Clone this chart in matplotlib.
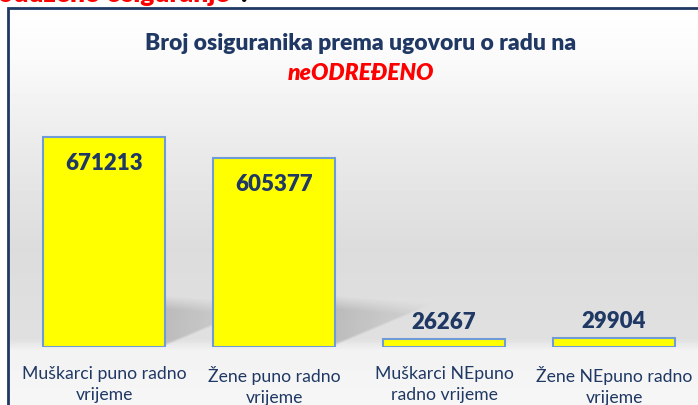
import matplotlib
matplotlib.use('Agg')
import matplotlib.pyplot as plt
import matplotlib.patches as patches
import numpy as np

categories = ['Muškarci puno radno\nvrijeme', 'Žene puno radno\nvrijeme',
              'Muškarci NEpuno\nradno vrijeme', 'Žene NEpuno radno\nvrijeme']
values = [671213, 605377, 26267, 29904]

navy = '#1f3864'
plt.rcParams['font.family'] = ['Lato', 'DejaVu Sans']

W, H = 698, 406
fig = plt.figure(figsize=(W / 100, H / 100), dpi=100)

# background: white page with a grey gradient panel inside the frame
bg = fig.add_axes([0, 0, 1, 1])
bg.set_xlim(0, W)
bg.set_ylim(H, 0)
bg.axis('off')
bg.add_patch(patches.Rectangle((0, 0), W, H, color='white', zorder=0))
stops_y = [9, 60, 150, 250, 340, 352, 406]
stops_c = [255, 250, 234, 220, 224, 243, 246]
ys = np.arange(9, 406) + 0.5
shade = np.interp(ys, stops_y, stops_c) / 255.0
grad = np.repeat(shade[:, None], 2, axis=1)
bg.imshow(grad, cmap='gray', vmin=0, vmax=1, aspect='auto',
          extent=[8, W + 5, 406, 9], zorder=1)

# soft floor shadow to the right of the tall bars
px, py = np.meshgrid(np.arange(W) + 0.5, np.arange(H) + 0.5)
alpha = np.zeros((H, W))
for xr in [166, 335]:
    d = px - xr
    top = 296 + d * 0.08
    bot = 347 - d * 0.42
    inside = np.clip((py - top) / 14, 0, 1) * np.clip((bot - py) / 3, 0, 1)
    fade = np.clip(1 - d / 140, 0, 1) * (d >= 0)
    alpha = np.maximum(alpha, 0.16 * inside * fade)
shadow = np.zeros((H, W, 4))
shadow[..., 3] = alpha
bg.imshow(shadow, extent=[0, W, H, 0], aspect='auto', zorder=1.5)

bg.plot([8, 8, W + 5], [H + 5, 9, 9], color=navy, lw=2, zorder=2,
        solid_joinstyle='miter')

# red caption running off the top edge
fig.text(-2 / W, 1 - 2 / H, 'oduzeno osiguranje', color='#ff0000',
         fontsize=19, fontweight='heavy', va='baseline', ha='left')
fig.text(240 / W, 1 - 2 / H, '.', color='black', fontsize=19,
         fontweight='heavy', va='baseline', ha='left')

fig.text(361 / W, 1 - 44 / H, 'Broj osiguranika prema ugovoru o radu na',
         color=navy, fontsize=16.5, fontweight='heavy', ha='center', va='center')
fig.text(361 / W, 1 - 74 / H, 'neODREĐENO', color='#ff0000', fontsize=16.5,
         fontweight='heavy', style='italic', ha='center', va='center')

# bar axes: baseline at y=348 px, 671213 reaches y=138 px
ymax = 920000
base = 348
px_per = 210 / values[0]
height_px = ymax * px_per
ax = fig.add_axes([19 / W, 1 - base / H, 680 / W, height_px / H])
ax.set_facecolor('none')
ax.set_xlim(-0.5, 3.5)
ax.set_ylim(0, ymax)
ax.axis('off')

x = np.arange(len(values))
ax.bar(x, values, width=0.72, color='#ffff00', edgecolor='#6f9bd6', linewidth=1.5)

for xi, v, cat in zip(x, values, categories):
    if v > 100000:
        ax.text(xi, v - 26 / px_per, str(v), ha='center', va='center',
                fontsize=16, fontweight='heavy', color=navy)
    else:
        ax.text(xi, v + 17 / px_per, str(v), ha='center', va='center',
                fontsize=16, fontweight='heavy', color=navy)
    ax.text(xi, -18 / px_per, cat, ha='center', va='top',
            fontsize=12.7, color=navy, linespacing=1.4)

fig.savefig('out.png', dpi=100)
